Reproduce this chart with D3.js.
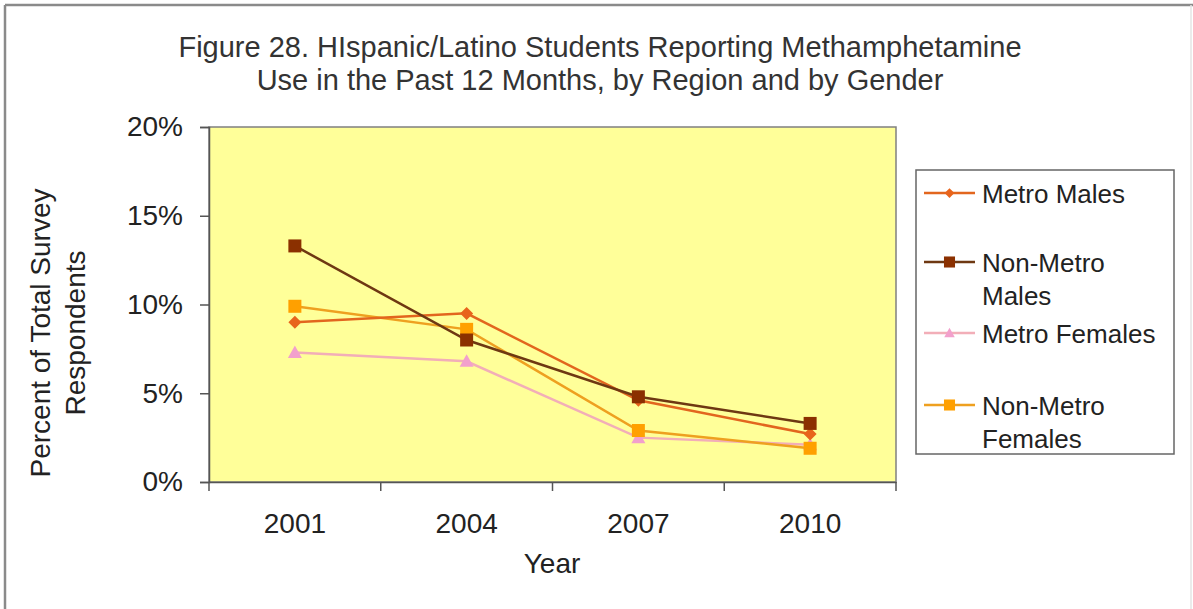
<!DOCTYPE html>
<html><head><meta charset="utf-8">
<script src="https://cdn.jsdelivr.net/npm/d3@7"></script>
<style>body{margin:0;background:#fff;}svg{display:block;font-family:"Liberation Sans",Arial,sans-serif;}</style>
</head><body>
<svg id="c" width="1193" height="609"></svg>
<script>
const years = ["2001","2004","2007","2010"];
const yTicks = [0, 0.05, 0.10, 0.15, 0.20];
const seriesNames = ["Metro Males","Non-Metro Males","Metro Females","Non-Metro Females"];
const metroMales = [0.090, 0.095, 0.046, 0.027];
const nonMetroMales = [0.133, 0.080, 0.048, 0.033];
const metroFemales = [0.073, 0.068, 0.025, 0.021];
const nonMetroFemales = [0.099, 0.086, 0.029, 0.019];

const series = [
  {name:seriesNames[0], values:metroMales, line:"#e2661e", fill:"#e8641c", shape:"diamond"},
  {name:seriesNames[1], values:nonMetroMales, line:"#6e3812", fill:"#8b3000", shape:"square"},
  {name:seriesNames[2], values:metroFemales, line:"#f2aeb8", fill:"#f2a0cc", shape:"triangle"},
  {name:seriesNames[3], values:nonMetroFemales, line:"#eea020", fill:"#ffa000", shape:"square"}
];
const svg = d3.select("#c");
const FS = 28;

// outer frame
svg.append("line").attr("x1",5).attr("x2",1193).attr("y1",5).attr("y2",5).attr("stroke","#8a8a8a").attr("stroke-width",2.5);
svg.append("line").attr("x1",5).attr("x2",5).attr("y1",5).attr("y2",609).attr("stroke","#8a8a8a").attr("stroke-width",2.5);
svg.append("line").attr("x1",1191).attr("x2",1191).attr("y1",5).attr("y2",609).attr("stroke","#e4e4e4").attr("stroke-width",1.5);

const L=209, R=896, T=127, B=482;
const x = d3.scaleBand().domain(years).range([L,R]);
const y = d3.scaleLinear().domain([0,0.2]).range([B,T]);

svg.append("rect").attr("x",L).attr("y",T).attr("width",R-L).attr("height",B-T)
  .attr("fill","#ffff99").attr("stroke","#808080").attr("stroke-width",1.5);

// title
const title = svg.append("text").attr("text-anchor","middle").attr("fill","#333").attr("font-size",29);
title.append("tspan").attr("x",600).attr("y",57).text("Figure 28. HIspanic/Latino Students Reporting Methamphetamine");
title.append("tspan").attr("x",600).attr("y",90).text("Use in the Past 12 Months, by Region and by Gender");

// axes
const yAxis = d3.axisLeft(y).tickValues(yTicks).tickFormat(d3.format(".0%")).tickSize(9).tickPadding(17);
const gy = svg.append("g").attr("transform",`translate(${L},0)`).call(yAxis);
gy.select(".domain").attr("stroke","#555").attr("stroke-width",1.5);
gy.selectAll(".tick line").attr("stroke","#555").attr("stroke-width",1.5);
gy.selectAll("text").attr("font-size",FS).attr("fill","#222").attr("font-family","Liberation Sans, Arial, sans-serif");

const xAxis = d3.axisBottom(x).tickSize(0).tickPadding(31);
const gx = svg.append("g").attr("transform",`translate(0,${B})`).call(xAxis);
gx.select(".domain").attr("stroke","#555").attr("stroke-width",1.5);
gx.selectAll("text").attr("font-size",FS).attr("fill","#222").attr("font-family","Liberation Sans, Arial, sans-serif");
// category boundary ticks
const bounds = years.map(d=>x(d)).concat([x(years[years.length-1])+x.bandwidth()]);
svg.selectAll(".xb").data(bounds).enter().append("line")
  .attr("x1",d=>d).attr("x2",d=>d).attr("y1",B).attr("y2",B+9).attr("stroke","#555").attr("stroke-width",1.5);

svg.append("text").attr("x",552).attr("y",573).attr("text-anchor","middle").attr("font-size",FS).attr("fill","#222").text("Year");
const yl = svg.append("text").attr("transform","translate(0,333) rotate(-90)").attr("text-anchor","middle").attr("font-size",FS).attr("fill","#222");
yl.append("tspan").attr("x",0).attr("y",50).text("Percent of Total Survey");
yl.append("tspan").attr("x",0).attr("y",85).text("Respondents");

const cx = d => x(d)+x.bandwidth()/2;
const line = d3.line().x((d,i)=>cx(years[i])).y(d=>y(d));

function marker(g, shape, fill, px, py, scale){
  const s = scale||1;
  if(shape==="square") g.append("rect").attr("x",px-6.5*s).attr("y",py-6.5*s).attr("width",13*s).attr("height",13*s).attr("fill",fill);
  else if(shape==="diamond") g.append("path").attr("d",`M${px},${py-6.5*s}L${px+6.5*s},${py}L${px},${py+6.5*s}L${px-6.5*s},${py}Z`).attr("fill",fill);
  else g.append("path").attr("d",`M${px},${py-7*s}L${px+7*s},${py+5.5*s}L${px-7*s},${py+5.5*s}Z`).attr("fill",fill);
}

const drawOrder = [2,3,0,1];
drawOrder.forEach(k=>{
  const s = series[k];
  svg.append("path").attr("d",line(s.values)).attr("fill","none").attr("stroke",s.line).attr("stroke-width",2.5);
});
drawOrder.forEach(k=>{
  const s = series[k];
  const g = svg.append("g");
  s.values.forEach((v,i)=>marker(g,s.shape,s.fill,cx(years[i]),y(v)));
});

// legend
svg.append("rect").attr("x",916).attr("y",170).attr("width",258).attr("height",284).attr("fill","#fff").attr("stroke","#666").attr("stroke-width",1.5);
const legendRows = [
  {lines:["Metro Males"], ly:193},
  {lines:["Non-Metro","Males"], ly:262},
  {lines:["Metro Females"], ly:333},
  {lines:["Non-Metro","Females"], ly:405}
];
series.forEach((s,i)=>{
  const r = legendRows[i];
  svg.append("line").attr("x1",924).attr("x2",975).attr("y1",r.ly).attr("y2",r.ly).attr("stroke",s.line).attr("stroke-width",2.5);
  marker(svg, s.shape, s.fill, 949.5, r.ly, i===1||i===3?0.85:0.75);
  const t = svg.append("text").attr("font-size",FS-2).attr("fill","#222");
  r.lines.forEach((ln,j)=>t.append("tspan").attr("x",982).attr("y",r.ly+10+j*33).text(ln));
});
</script>
</body></html>
